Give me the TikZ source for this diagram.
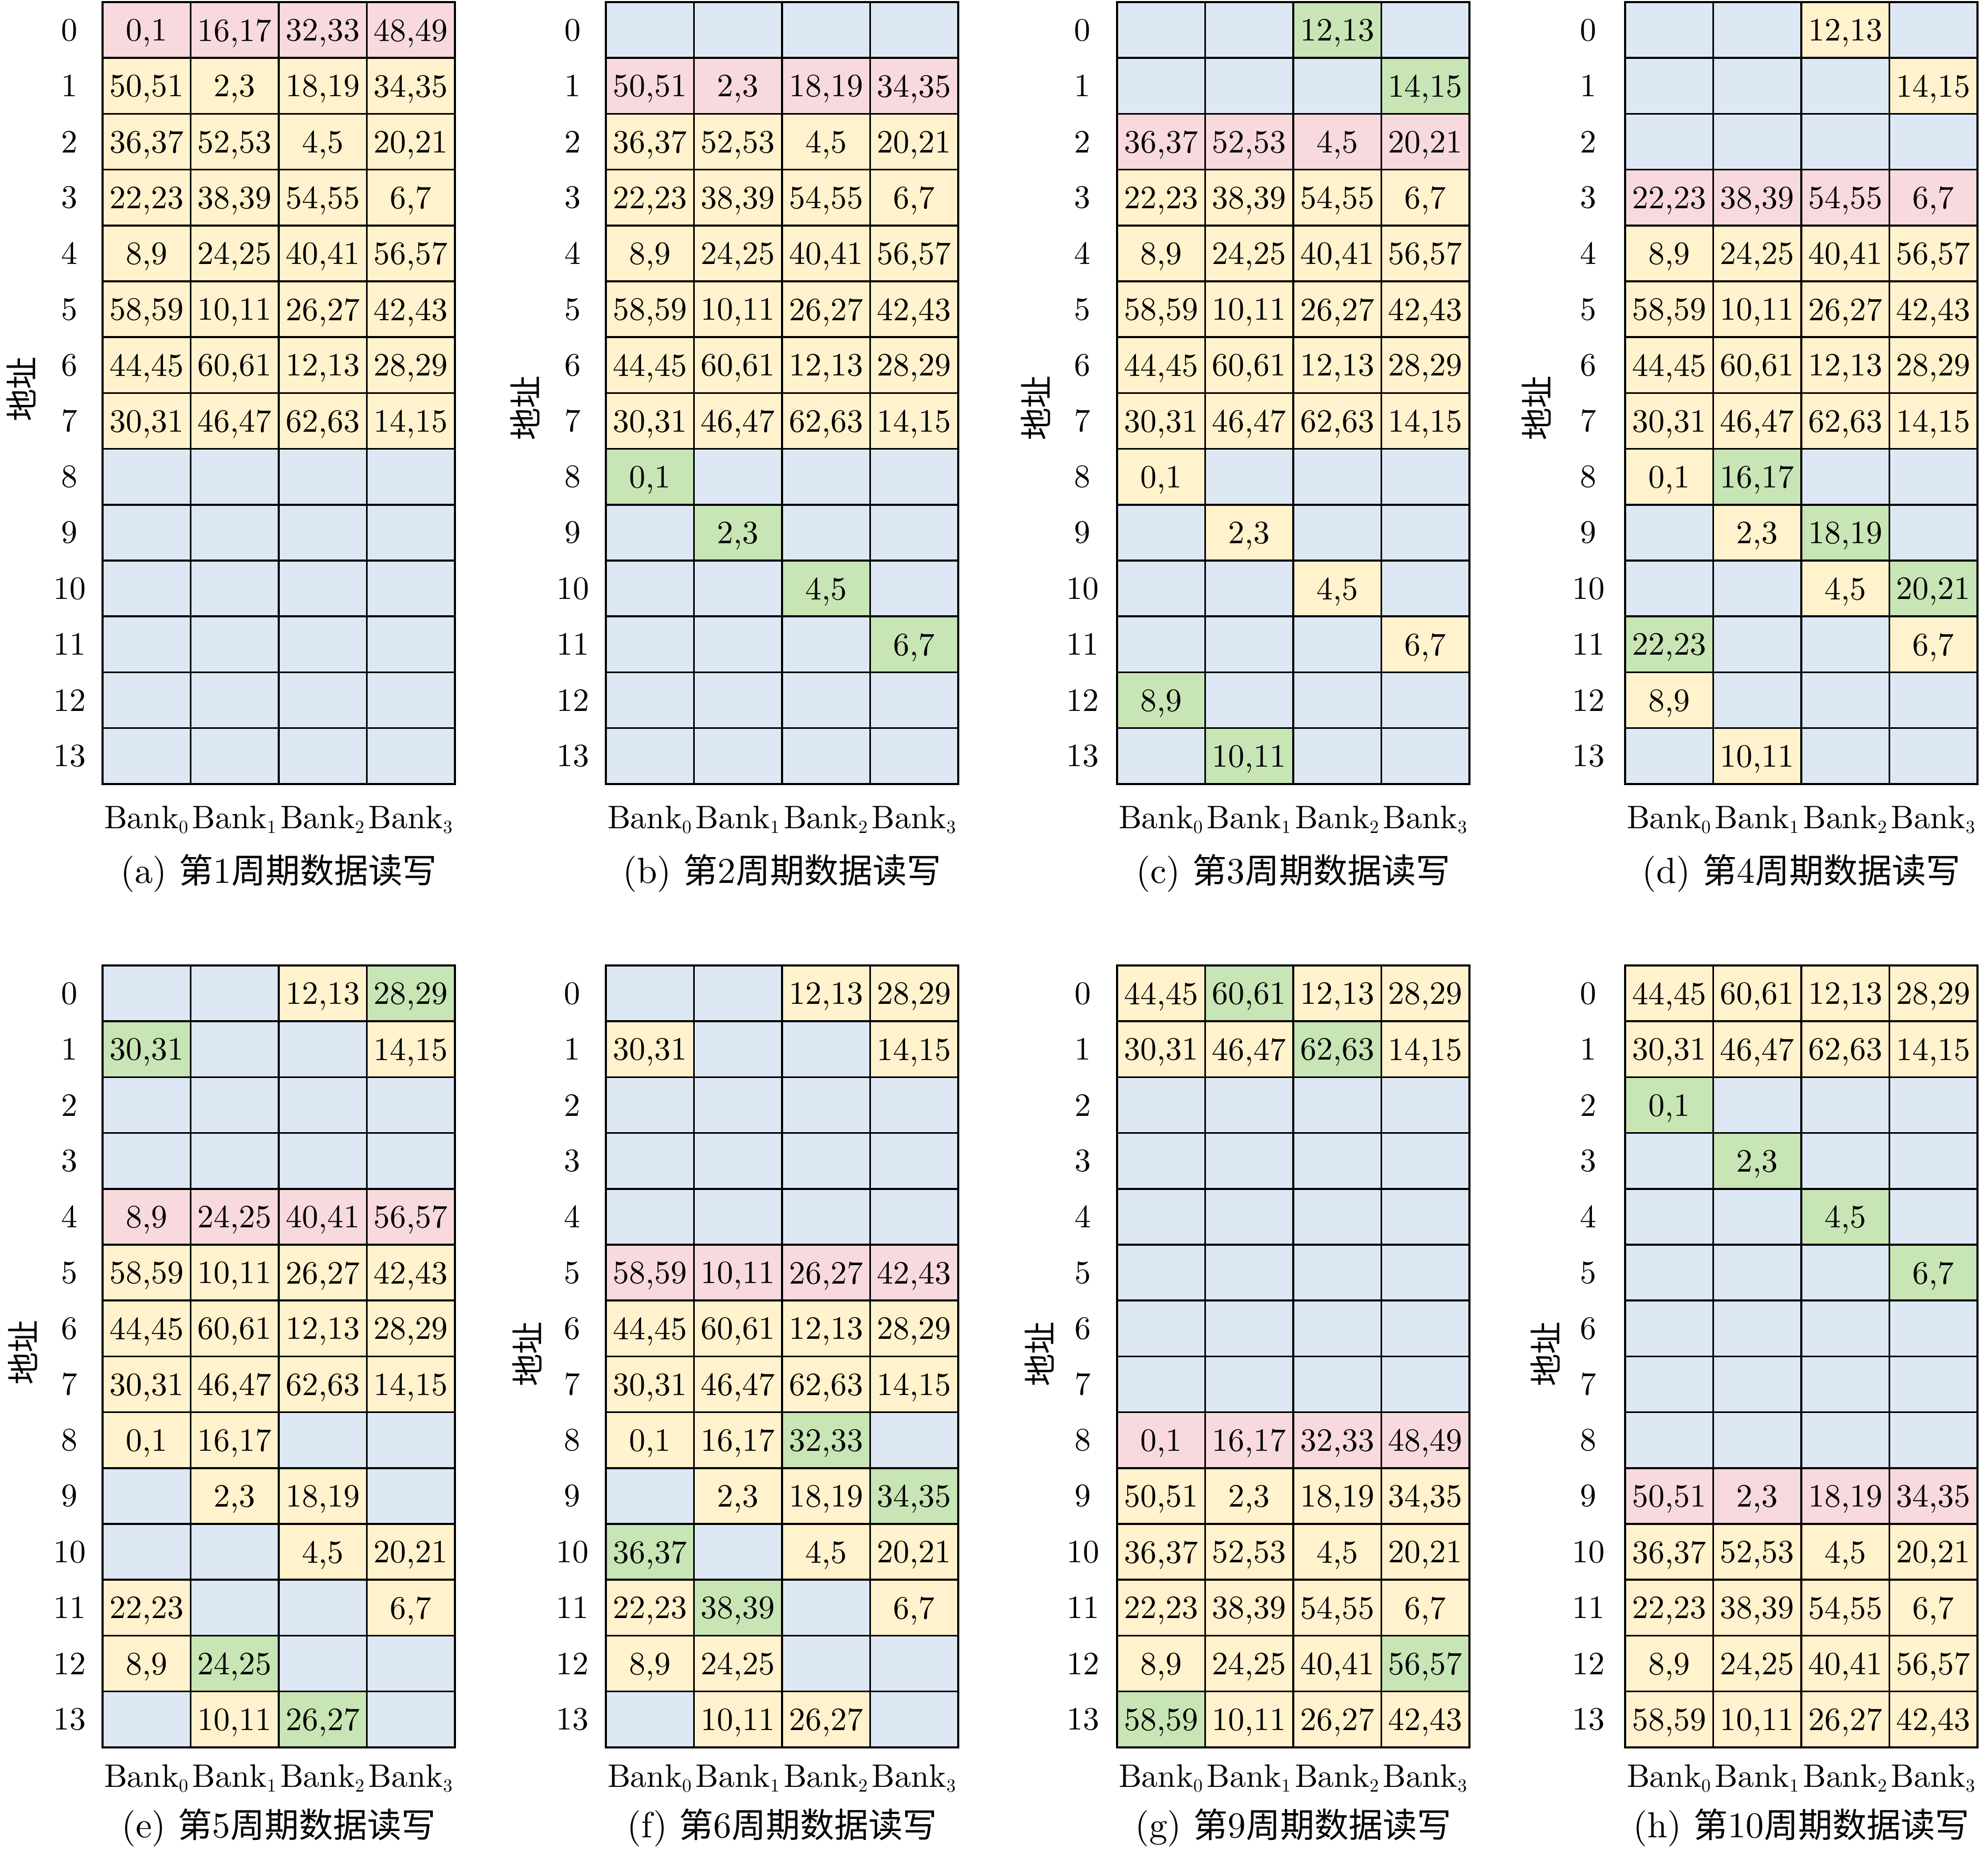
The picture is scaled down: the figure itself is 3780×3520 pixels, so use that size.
\documentclass[tikz,border=0pt]{standalone}
\usepackage{fontspec}
\setmainfont{Latin Modern Roman}[OpticalSize=10]
\newfontfamily\cjk{Noto Sans CJK SC}
\DeclareMathSizes{17.6}{17.6}{10.4}{7.5}
\definecolor{cP}{HTML}{F8D9DD}
\definecolor{cY}{HTML}{FFF2CC}
\definecolor{cG}{HTML}{C8E5B5}
\definecolor{cB}{HTML}{DEE8F4}
\newcommand\labfont{\fontsize{17.6}{21}\selectfont}
\newcommand\capfont{\fontsize{19.6}{23}\selectfont}
\newcommand\cjkc{\cjk\fontsize{18.5}{22}\selectfont}
\tikzset{
  cell/.style={draw=none, minimum width=1.675cm, minimum height=1.062cm, inner sep=0pt, text depth=0pt, font=\labfont},
  lab/.style={font=\labfont, inner sep=0pt},
  captext/.style={font=\capfont, inner sep=0pt},
  gridline/.style={line width=1pt, black},
  outerline/.style={line width=1.3pt, black},
}
\newcommand\cellat[4]{\node[cell,fill=#3] (\pn-#1-#2) at ({\px+(#2+0.5)*167.5},{\py+(#1+0.5)*106.2}) {#4};}
\newcommand\fullrow[6]{\cellat{#1}{0}{#2}{#3}\cellat{#1}{1}{#2}{#4}\cellat{#1}{2}{#2}{#5}\cellat{#1}{3}{#2}{#6}}
\newcommand\MrowA[2]{\fullrow{#1}{#2}{0,1}{16,17}{32,33}{48,49}}
\newcommand\MrowB[2]{\fullrow{#1}{#2}{50,51}{2,3}{18,19}{34,35}}
\newcommand\MrowC[2]{\fullrow{#1}{#2}{36,37}{52,53}{4,5}{20,21}}
\newcommand\MrowD[2]{\fullrow{#1}{#2}{22,23}{38,39}{54,55}{6,7}}
\newcommand\MrowE[2]{\fullrow{#1}{#2}{8,9}{24,25}{40,41}{56,57}}
\newcommand\MrowF[2]{\fullrow{#1}{#2}{58,59}{10,11}{26,27}{42,43}}
\newcommand\MrowG[2]{\fullrow{#1}{#2}{44,45}{60,61}{12,13}{28,29}}
\newcommand\MrowH[2]{\fullrow{#1}{#2}{30,31}{46,47}{62,63}{14,15}}
% #1 name, #2 x, #3 y, #4 row-label offset, #5 address-label x offset, #6 address-label y offset
\newcommand\panelstart[6]{\def\pn{#1}\def\px{#2}\def\py{#3}\def\rowdx{#4}\def\addrdx{#5}\def\addry{#6}%
  \fill[cB] ({\px},{\py}) rectangle ++(670,1486.8);}
\newcommand\panelend[2]{%
  \foreach \ii in {1,...,13} {\draw[gridline] ({\px},{\py+\ii*106.2}) -- ++(670,0);}
  \foreach \jj in {1,2,3} {\draw[gridline] ({\px+\jj*167.5},{\py}) -- ++(0,1486.8);}
  \draw[outerline] ({\px},{\py}) rectangle ++(670,1486.8);
  \foreach \ri in {0,...,13} {\node[lab] (\pn-r\ri) at ({\px-\rowdx},{\py+(\ri+0.5)*106.2}) {\ri};}
  \node[lab, rotate=90] (\pn-addr) at ({\px-\addrdx},{\py+\addry}) {\cjk 地址};
  \foreach \ci in {0,...,3} {\node[lab, anchor=base] (\pn-b\ci) at ({\px+(\ci+0.5)*167.5},{\py+1486.8+\bankoff}) {Bank$_{\ci}$};}
  \node[captext, anchor=base] (\pn-cap) at ({\px+335},{\py+1486.8+\capoff}) {(#1) {\cjkc 第}#2{\cjkc 周期数据读写}};
}
\begin{document}
\begin{tikzpicture}[x=0.01cm, y=-0.01cm]
\useasboundingbox (0,0) rectangle (3780,3520);
\def\bankoff{85}\def\capoff{189}
% (a)
\panelstart{a}{195}{4}{63}{155}{736}
\MrowA{0}{cP}\MrowB{1}{cY}\MrowC{2}{cY}\MrowD{3}{cY}\MrowE{4}{cY}\MrowF{5}{cY}\MrowG{6}{cY}\MrowH{7}{cY}
\panelend{a}{1}
% (b)
\panelstart{b}{1152}{4}{63}{154}{772}
\MrowB{1}{cP}\MrowC{2}{cY}\MrowD{3}{cY}\MrowE{4}{cY}\MrowF{5}{cY}\MrowG{6}{cY}\MrowH{7}{cY}
\cellat{8}{0}{cG}{0,1}\cellat{9}{1}{cG}{2,3}\cellat{10}{2}{cG}{4,5}\cellat{11}{3}{cG}{6,7}
\panelend{b}{2}
% (c)
\panelstart{c}{2124}{4}{66}{155}{772}
\cellat{0}{2}{cG}{12,13}\cellat{1}{3}{cG}{14,15}
\MrowC{2}{cP}\MrowD{3}{cY}\MrowE{4}{cY}\MrowF{5}{cY}\MrowG{6}{cY}\MrowH{7}{cY}
\cellat{8}{0}{cY}{0,1}\cellat{9}{1}{cY}{2,3}\cellat{10}{2}{cY}{4,5}\cellat{11}{3}{cY}{6,7}
\cellat{12}{0}{cG}{8,9}\cellat{13}{1}{cG}{10,11}
\panelend{c}{3}
% (d)
\panelstart{d}{3090}{4}{70}{169}{772}
\cellat{0}{2}{cY}{12,13}\cellat{1}{3}{cY}{14,15}
\MrowD{3}{cP}\MrowE{4}{cY}\MrowF{5}{cY}\MrowG{6}{cY}\MrowH{7}{cY}
\cellat{8}{0}{cY}{0,1}\cellat{8}{1}{cG}{16,17}
\cellat{9}{1}{cY}{2,3}\cellat{9}{2}{cG}{18,19}
\cellat{10}{2}{cY}{4,5}\cellat{10}{3}{cG}{20,21}
\cellat{11}{0}{cG}{22,23}\cellat{11}{3}{cY}{6,7}
\cellat{12}{0}{cY}{8,9}\cellat{13}{1}{cY}{10,11}
\panelend{d}{4}
\def\bankoff{76}\def\capoff{172}
% (e)
\panelstart{e}{195}{1836}{63}{152}{736}
\cellat{0}{2}{cY}{12,13}\cellat{0}{3}{cG}{28,29}
\cellat{1}{0}{cG}{30,31}\cellat{1}{3}{cY}{14,15}
\MrowE{4}{cP}\MrowF{5}{cY}\MrowG{6}{cY}\MrowH{7}{cY}
\cellat{8}{0}{cY}{0,1}\cellat{8}{1}{cY}{16,17}
\cellat{9}{1}{cY}{2,3}\cellat{9}{2}{cY}{18,19}
\cellat{10}{2}{cY}{4,5}\cellat{10}{3}{cY}{20,21}
\cellat{11}{0}{cY}{22,23}\cellat{11}{3}{cY}{6,7}
\cellat{12}{0}{cY}{8,9}\cellat{12}{1}{cG}{24,25}
\cellat{13}{1}{cY}{10,11}\cellat{13}{2}{cG}{26,27}
\panelend{e}{5}
% (f)
\panelstart{f}{1152}{1836}{64}{150}{739}
\cellat{0}{2}{cY}{12,13}\cellat{0}{3}{cY}{28,29}
\cellat{1}{0}{cY}{30,31}\cellat{1}{3}{cY}{14,15}
\MrowF{5}{cP}\MrowG{6}{cY}\MrowH{7}{cY}
\cellat{8}{0}{cY}{0,1}\cellat{8}{1}{cY}{16,17}\cellat{8}{2}{cG}{32,33}
\cellat{9}{1}{cY}{2,3}\cellat{9}{2}{cY}{18,19}\cellat{9}{3}{cG}{34,35}
\cellat{10}{0}{cG}{36,37}\cellat{10}{2}{cY}{4,5}\cellat{10}{3}{cY}{20,21}
\cellat{11}{0}{cY}{22,23}\cellat{11}{1}{cG}{38,39}\cellat{11}{3}{cY}{6,7}
\cellat{12}{0}{cY}{8,9}\cellat{12}{1}{cY}{24,25}
\cellat{13}{1}{cY}{10,11}\cellat{13}{2}{cY}{26,27}
\panelend{f}{6}
% (g)
\panelstart{g}{2124}{1836}{65}{148}{739}
\cellat{0}{0}{cY}{44,45}\cellat{0}{1}{cG}{60,61}\cellat{0}{2}{cY}{12,13}\cellat{0}{3}{cY}{28,29}
\cellat{1}{0}{cY}{30,31}\cellat{1}{1}{cY}{46,47}\cellat{1}{2}{cG}{62,63}\cellat{1}{3}{cY}{14,15}
\MrowA{8}{cP}\MrowB{9}{cY}\MrowC{10}{cY}\MrowD{11}{cY}
\cellat{12}{0}{cY}{8,9}\cellat{12}{1}{cY}{24,25}\cellat{12}{2}{cY}{40,41}\cellat{12}{3}{cG}{56,57}
\cellat{13}{0}{cG}{58,59}\cellat{13}{1}{cY}{10,11}\cellat{13}{2}{cY}{26,27}\cellat{13}{3}{cY}{42,43}
\panelend{g}{9}
% (h)
\panelstart{h}{3090}{1836}{70}{152}{739}
\MrowG{0}{cY}\MrowH{1}{cY}
\cellat{2}{0}{cG}{0,1}\cellat{3}{1}{cG}{2,3}\cellat{4}{2}{cG}{4,5}\cellat{5}{3}{cG}{6,7}
\MrowB{9}{cP}\MrowC{10}{cY}\MrowD{11}{cY}\MrowE{12}{cY}\MrowF{13}{cY}
\panelend{h}{10}
\end{tikzpicture}
\end{document}
